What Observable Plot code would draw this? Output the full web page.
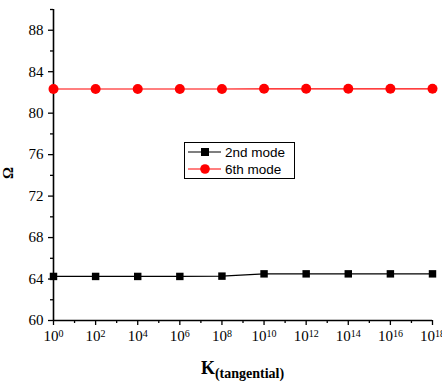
<!DOCTYPE html>
<html>
<head>
<meta charset="utf-8">
<script src="https://cdn.jsdelivr.net/npm/d3@7"></script>
<script src="https://cdn.jsdelivr.net/npm/@observablehq/plot@0.6"></script>
<style>
  html, body { margin: 0; padding: 0; background: #fff; overflow: hidden; }
  #wrap { position: relative; width: 442px; height: 384px; }
  #legend { position: absolute; left: 184px; top: 142px; width: 111px; height: 37px;
    border: 1px solid #000; background: #fff; box-sizing: border-box; }
  #legend text { font-family: "Liberation Sans", Arial, sans-serif; }
  #xtitle { position: absolute; left: 53px; width: 379px; top: 359px; text-align: center; line-height: 18px;
    font-family: "Liberation Serif", "Times New Roman", serif; font-weight: bold; font-size: 18px; }
  #xtitle sub { font-size: 14px; vertical-align: -4px; line-height: 0; }
</style>
</head>
<body>
<div id="wrap"></div>
<script>
// Data
const exponents = [0, 2, 4, 6, 8, 10, 12, 14, 16, 18];
const mode2 = [64.25, 64.25, 64.25, 64.25, 64.28, 64.5, 64.5, 64.5, 64.5, 64.5];
const mode6 = [82.33, 82.33, 82.33, 82.33, 82.33, 82.35, 82.35, 82.35, 82.35, 82.35];
const seriesNames = ["2nd mode", "6th mode"];
const seriesColors = ["#000000", "#ff0000"];
const yTicks = [60, 64, 68, 72, 76, 80, 84, 88];
const yMinor = [62, 66, 70, 74, 78, 82, 86, 90];
const xTickExp = [0, 2, 4, 6, 8, 10, 12, 14, 16, 18];
const xMinorExp = [1, 3, 5, 7, 9, 11, 13, 15, 17];

const d2 = exponents.map((e, i) => ({x: Math.pow(10, e), y: mode2[i]}));
const d6 = exponents.map((e, i) => ({x: Math.pow(10, e), y: mode6[i]}));
const xTicks = xTickExp.map(e => Math.pow(10, e));
const xMinor = xMinorExp.map(e => Math.pow(10, e));

const serif = '"Liberation Serif", "Times New Roman", serif';

const chart = Plot.plot({
  width: 442,
  height: 384,
  marginLeft: 53,
  marginRight: 10,
  marginTop: 9,
  marginBottom: 64,
  style: {fontFamily: serif, fontSize: "15px", background: "#fff", overflow: "visible"},
  x: {type: "log", domain: [1, 1e18]},
  y: {domain: [60, 90]},
  marks: [
    Plot.axisY(yTicks, {tickSize: 5, tickPadding: 5, fontSize: 15, label: null, strokeWidth: 1.3, fill: "#000"}),
    Plot.axisY(yMinor, {tickSize: 3, tickFormat: () => "", label: null, strokeWidth: 1.3}),
    Plot.axisX(xTicks, {tickSize: 5, tickPadding: 5, fontSize: 15, label: null, strokeWidth: 1.3, tickFormat: d => "10^" + Math.round(Math.log10(d)), fill: "#000"}),
    Plot.axisX(xMinor, {tickSize: 3, tickFormat: () => "", label: null, strokeWidth: 1.3}),
    Plot.ruleX([1], {y1: 60, y2: 90, stroke: "#000", strokeWidth: 1.6}),
    Plot.ruleY([60], {x1: 1, x2: 1e18, stroke: "#000", strokeWidth: 1.6}),
    Plot.line(d2, {x: "x", y: "y", stroke: seriesColors[0], strokeWidth: 1.2}),
    Plot.dot(d2, {x: "x", y: "y", symbol: "square", r: 4.2, fill: seriesColors[0], stroke: "none"}),
    Plot.line(d6, {x: "x", y: "y", stroke: seriesColors[1], strokeWidth: 1.2}),
    Plot.dot(d6, {x: "x", y: "y", symbol: "circle", r: 5, fill: seriesColors[1], stroke: "none"}),
    Plot.text(["Ω"], {frameAnchor: "left", dx: -45, dy: 14, rotate: -90, fontWeight: "bold", fontSize: 15, fill: "#000"})
  ]
});

const wrap = document.getElementById("wrap");
wrap.appendChild(chart);

// force serif font on all chart texts; format x tick labels with superscripts
d3.select(chart).selectAll("text").each(function() {
  const t = d3.select(this);
  t.style("font-family", serif).style("font-size", "15px");
  const txt = t.text();
  const m = /^10\^(\d+)$/.exec(txt);
  if (m) {
    t.text("");
    t.append("tspan").text("10");
    t.append("tspan").attr("dy", "-0.45em").style("font-size", "10px").text(m[1]);
  }
});

// legend
const lg = document.createElement("div");
lg.id = "legend";
lg.innerHTML = `<svg width="109" height="35" style="position:absolute;left:0;top:0">
  <line x1="3" y1="9" x2="36" y2="9" stroke="${seriesColors[0]}" stroke-width="1.2"/>
  <rect x="16" y="5" width="8" height="8" fill="${seriesColors[0]}"/>
  <text x="40" y="14" font-size="13.5">${seriesNames[0]}</text>
  <line x1="3" y1="26" x2="36" y2="26" stroke="${seriesColors[1]}" stroke-width="1.2"/>
  <circle cx="20" cy="26" r="4.8" fill="${seriesColors[1]}"/>
  <text x="40" y="31" font-size="13.5">${seriesNames[1]}</text>
</svg>`;
wrap.appendChild(lg);

const xt = document.createElement("div");
xt.id = "xtitle";
xt.innerHTML = 'K<sub>(tangential)</sub>';
wrap.appendChild(xt);
</script>
</body>
</html>
